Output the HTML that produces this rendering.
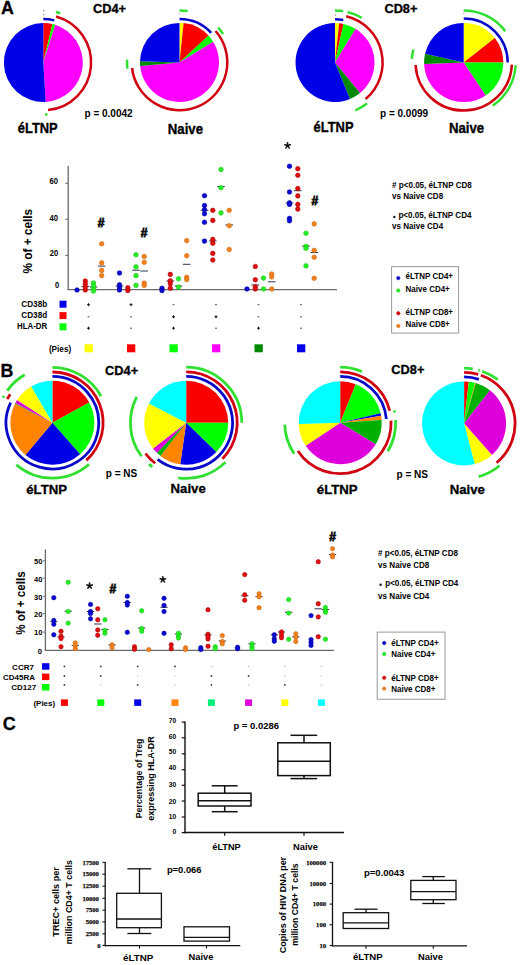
<!DOCTYPE html>
<html><head><meta charset="utf-8"><style>
html,body{margin:0;padding:0;background:#fff;}
body{width:520px;height:965px;overflow:hidden;}
svg{display:block;}
text{fill:#000;}
text.big{stroke:#000;stroke-width:0.3px;}
</style></head><body>
<svg width="520" height="965" viewBox="0 0 520 965">
<rect x="0" y="0" width="520" height="965" fill="#fff"/>
<text x="1.0" y="13.9" font-family="'Liberation Sans', sans-serif" font-size="17.8" font-weight="bold" text-anchor="start"  class="big">A</text>
<text x="93" y="13" font-family="'Liberation Sans', sans-serif" font-size="12.8" font-weight="bold" text-anchor="start"  class="big">CD4+</text>
<text x="384.4" y="13" font-family="'Liberation Sans', sans-serif" font-size="12.8" font-weight="bold" text-anchor="start"  class="big">CD8+</text>
<path d="M43.30,62.50 L43.30,23.00 A39.5,39.5 0 0 1 52.45,24.08 Z" fill="#fc0000"/>
<path d="M43.30,62.50 L52.45,24.08 A39.5,39.5 0 0 1 55.24,24.85 Z" fill="#00ff00"/>
<path d="M43.30,62.50 L55.24,24.85 A39.5,39.5 0 0 1 45.71,101.93 Z" fill="#ff00ff"/>
<path d="M43.30,62.50 L45.71,101.93 A39.5,39.5 0 1 1 43.30,23.00 Z" fill="#0000e6"/>
<path d="M43.30,19.00 A43.5,43.5 0 0 1 54.27,20.40" fill="none" stroke="#0808c8" stroke-width="2.5"/>
<path d="M56.07,16.44 A47.8,47.8 0 0 1 48.05,110.06" fill="none" stroke="#d00010" stroke-width="2.5"/>
<path d="M55.88,12.04 A52,52 0 0 1 60.23,13.33" fill="none" stroke="#30e030" stroke-width="2.5"/>
<path d="M47.38,114.34 A52,52 0 0 1 45.11,114.47" fill="none" stroke="#30e030" stroke-width="2.5"/>
<circle cx="43.70" cy="10.50" r="0.8" fill="#999"/>
<circle cx="43.70" cy="14.80" r="0.8" fill="#999"/>
<path d="M179.50,62.40 L179.50,22.90 A39.5,39.5 0 0 1 183.63,23.12 Z" fill="#ffff00"/>
<path d="M179.50,62.40 L183.63,23.12 A39.5,39.5 0 0 1 208.53,35.61 Z" fill="#fc0000"/>
<path d="M179.50,62.40 L208.53,35.61 A39.5,39.5 0 0 1 213.18,41.76 Z" fill="#00ff00"/>
<path d="M179.50,62.40 L213.18,41.76 A39.5,39.5 0 1 1 140.16,65.98 Z" fill="#ff00ff"/>
<path d="M179.50,62.40 L140.16,65.98 A39.5,39.5 0 0 1 140.02,61.30 Z" fill="#008a00"/>
<path d="M179.50,62.40 L140.02,61.30 A39.5,39.5 0 0 1 179.50,22.90 Z" fill="#0000e6"/>
<path d="M179.50,19.10 A43.3,43.3 0 0 1 211.17,32.87" fill="none" stroke="#0808c8" stroke-width="2.5"/>
<path d="M215.58,31.04 A47.8,47.8 0 1 1 132.03,67.98" fill="none" stroke="#d00010" stroke-width="2.5"/>
<path d="M179.50,10.40 A52,52 0 0 1 187.63,11.04" fill="none" stroke="#30e030" stroke-width="2.5"/>
<path d="M218.14,27.61 A52,52 0 0 1 223.11,34.08" fill="none" stroke="#30e030" stroke-width="2.5"/>
<path d="M127.37,68.62 A52.5,52.5 0 0 1 127.07,59.65" fill="none" stroke="#30e030" stroke-width="2.5"/>
<circle cx="179.30" cy="13.70" r="0.8" fill="#bbb"/>
<path d="M335.00,62.50 L335.00,23.00 A39.5,39.5 0 0 1 339.13,23.22 Z" fill="#ffff00"/>
<path d="M335.00,62.50 L339.13,23.22 A39.5,39.5 0 0 1 343.48,23.92 Z" fill="#fc0000"/>
<path d="M335.00,62.50 L343.48,23.92 A39.5,39.5 0 0 1 355.64,28.82 Z" fill="#00ff00"/>
<path d="M335.00,62.50 L355.64,28.82 A39.5,39.5 0 0 1 360.07,93.02 Z" fill="#ff00ff"/>
<path d="M335.00,62.50 L360.07,93.02 A39.5,39.5 0 0 1 349.99,99.05 Z" fill="#008a00"/>
<path d="M335.00,62.50 L349.99,99.05 A39.5,39.5 0 1 1 335.00,23.00 Z" fill="#0000e6"/>
<path d="M335.00,19.20 A43.3,43.3 0 0 1 343.26,20.00" fill="none" stroke="#0808c8" stroke-width="2.5"/>
<path d="M346.19,16.23 A47.6,47.6 0 0 1 365.60,98.96" fill="none" stroke="#d00010" stroke-width="2.5"/>
<path d="M335.00,10.50 A52,52 0 0 1 343.13,11.14" fill="none" stroke="#30e030" stroke-width="2.5"/>
<path d="M347.58,12.04 A52,52 0 0 1 361.78,17.93" fill="none" stroke="#30e030" stroke-width="2.5"/>
<path d="M367.01,103.48 A52,52 0 0 1 355.32,110.37" fill="none" stroke="#30e030" stroke-width="2.5"/>
<circle cx="335.30" cy="15.00" r="0.8" fill="#c88"/>
<path d="M463.70,62.50 L463.70,22.90 A39.6,39.6 0 0 1 494.82,38.01 Z" fill="#ffff00"/>
<path d="M463.70,62.50 L494.82,38.01 A39.6,39.6 0 0 1 503.30,62.50 Z" fill="#fc0000"/>
<path d="M463.70,62.50 L503.30,62.50 A39.6,39.6 0 0 1 485.67,95.45 Z" fill="#00ff00"/>
<path d="M463.70,62.50 L485.67,95.45 A39.6,39.6 0 0 1 424.12,63.88 Z" fill="#ff00ff"/>
<path d="M463.70,62.50 L424.12,63.88 A39.6,39.6 0 0 1 425.08,53.73 Z" fill="#008a00"/>
<path d="M463.70,62.50 L425.08,53.73 A39.6,39.6 0 0 1 463.70,22.90 Z" fill="#0000e6"/>
<path d="M463.70,18.50 A44,44 0 0 1 507.70,62.50" fill="none" stroke="#0808c8" stroke-width="2.5"/>
<path d="M511.85,64.60 A48.2,48.2 0 0 1 415.57,65.02" fill="none" stroke="#d00010" stroke-width="2.5"/>
<path d="M463.70,10.50 A52,52 0 0 1 505.23,31.21" fill="none" stroke="#30e030" stroke-width="2.5"/>
<path d="M515.63,65.22 A52,52 0 0 1 492.78,105.61" fill="none" stroke="#30e030" stroke-width="2.5"/>
<path d="M411.83,58.87 A52,52 0 0 1 413.36,49.48" fill="none" stroke="#30e030" stroke-width="2.5"/>
<circle cx="463.70" cy="13.50" r="0.8" fill="#bbb"/>
<text x="0" y="0" font-family="'Liberation Sans', sans-serif" font-size="12.9" font-weight="bold" text-anchor="start" transform="translate(17.8 132.7) scale(1 1.16)" class="big">&#233;LTNP</text>
<text x="0" y="0" font-family="'Liberation Sans', sans-serif" font-size="13.2" font-weight="bold" text-anchor="start" transform="translate(167.8 133.6) scale(1 1.13)" class="big">Naive</text>
<text x="84.5" y="117" font-family="'Liberation Sans', sans-serif" font-size="10" font-weight="bold" text-anchor="start" >p = 0.0042</text>
<text x="0" y="0" font-family="'Liberation Sans', sans-serif" font-size="12.9" font-weight="bold" text-anchor="start" transform="translate(313.6 132.3) scale(1 1.16)" class="big">&#233;LTNP</text>
<text x="0" y="0" font-family="'Liberation Sans', sans-serif" font-size="13.2" font-weight="bold" text-anchor="start" transform="translate(448.9 132.6) scale(1 1.13)" class="big">Naive</text>
<text x="380" y="116.8" font-family="'Liberation Sans', sans-serif" font-size="10" font-weight="bold" text-anchor="start" >p = 0.0099</text>
<line x1="68.2" y1="166" x2="68.2" y2="290" stroke="#6a6a6a" stroke-width="1.3"/>
<line x1="67.6" y1="289.6" x2="337" y2="289.6" stroke="#6a6a6a" stroke-width="1.3"/>
<text x="0" y="0" font-family="'Liberation Sans', sans-serif" font-size="7.6" font-weight="bold" text-anchor="end" transform="translate(58.0 184.4) scale(1 1.1)" >60</text>
<text x="0" y="0" font-family="'Liberation Sans', sans-serif" font-size="7.6" font-weight="bold" text-anchor="end" transform="translate(58.0 220.7) scale(1 1.1)" >40</text>
<text x="0" y="0" font-family="'Liberation Sans', sans-serif" font-size="7.6" font-weight="bold" text-anchor="end" transform="translate(58.3 256.0) scale(1 1.1)" >20</text>
<text x="0" y="0" font-family="'Liberation Sans', sans-serif" font-size="7.6" font-weight="bold" text-anchor="end" transform="translate(59.3 287.8) scale(1 1.1)" >0</text>
<line x1="65.3" y1="183.3" x2="68.2" y2="183.3" stroke="#6a6a6a" stroke-width="1"/>
<line x1="65.3" y1="219.3" x2="68.2" y2="219.3" stroke="#6a6a6a" stroke-width="1"/>
<line x1="65.3" y1="255.4" x2="68.2" y2="255.4" stroke="#6a6a6a" stroke-width="1"/>
<text x="0" y="0" font-family="'Liberation Sans', sans-serif" font-size="11.8" font-weight="bold" text-anchor="middle" transform="translate(31.5 241.2) rotate(-90) scale(1 1.1)">% of + cells</text>
<line x1="81.5" y1="286.5" x2="89.1" y2="286.5" stroke="#303048" stroke-width="1.0"/>
<line x1="89.7" y1="287" x2="97.3" y2="287" stroke="#303048" stroke-width="1.0"/>
<line x1="97.9" y1="266.1" x2="105.5" y2="266.1" stroke="#303048" stroke-width="1.0"/>
<circle cx="77.00" cy="290.00" r="2.30" fill="#0a0ad0" stroke="#0000a8" stroke-width="0.6"/>
<circle cx="85.30" cy="281.00" r="2.30" fill="#e01010" stroke="#b00000" stroke-width="0.6"/>
<circle cx="85.30" cy="284.00" r="2.30" fill="#e01010" stroke="#b00000" stroke-width="0.6"/>
<circle cx="85.30" cy="287.00" r="2.30" fill="#e01010" stroke="#b00000" stroke-width="0.6"/>
<circle cx="85.30" cy="290.00" r="2.30" fill="#e01010" stroke="#b00000" stroke-width="0.6"/>
<circle cx="93.50" cy="283.00" r="2.30" fill="#28ee28" stroke="#18c818" stroke-width="0.6"/>
<circle cx="93.50" cy="286.00" r="2.30" fill="#28ee28" stroke="#18c818" stroke-width="0.6"/>
<circle cx="93.50" cy="289.00" r="2.30" fill="#28ee28" stroke="#18c818" stroke-width="0.6"/>
<circle cx="93.50" cy="291.00" r="2.30" fill="#28ee28" stroke="#18c818" stroke-width="0.6"/>
<circle cx="101.70" cy="243.80" r="2.30" fill="#f08020" stroke="#d06c10" stroke-width="0.6"/>
<circle cx="101.70" cy="262.90" r="2.30" fill="#f08020" stroke="#d06c10" stroke-width="0.6"/>
<circle cx="101.70" cy="270.40" r="2.30" fill="#f08020" stroke="#d06c10" stroke-width="0.6"/>
<circle cx="101.70" cy="275.60" r="2.30" fill="#f08020" stroke="#d06c10" stroke-width="0.6"/>
<line x1="115.7" y1="286" x2="123.3" y2="286" stroke="#303048" stroke-width="1.0"/>
<line x1="132.2" y1="270.2" x2="139.8" y2="270.2" stroke="#303048" stroke-width="1.0"/>
<line x1="140.39999999999998" y1="271" x2="148.0" y2="271" stroke="#303048" stroke-width="1.0"/>
<circle cx="119.50" cy="273.00" r="2.30" fill="#0a0ad0" stroke="#0000a8" stroke-width="0.6"/>
<circle cx="119.50" cy="284.80" r="2.30" fill="#0a0ad0" stroke="#0000a8" stroke-width="0.6"/>
<circle cx="119.50" cy="287.70" r="2.30" fill="#0a0ad0" stroke="#0000a8" stroke-width="0.6"/>
<circle cx="119.50" cy="290.00" r="2.30" fill="#0a0ad0" stroke="#0000a8" stroke-width="0.6"/>
<circle cx="127.80" cy="287.70" r="2.30" fill="#e01010" stroke="#b00000" stroke-width="0.6"/>
<circle cx="127.80" cy="290.60" r="2.30" fill="#e01010" stroke="#b00000" stroke-width="0.6"/>
<circle cx="136.00" cy="254.80" r="2.30" fill="#28ee28" stroke="#18c818" stroke-width="0.6"/>
<circle cx="136.00" cy="266.90" r="2.30" fill="#28ee28" stroke="#18c818" stroke-width="0.6"/>
<circle cx="136.00" cy="275.60" r="2.30" fill="#28ee28" stroke="#18c818" stroke-width="0.6"/>
<circle cx="136.00" cy="285.40" r="2.30" fill="#28ee28" stroke="#18c818" stroke-width="0.6"/>
<circle cx="144.20" cy="256.50" r="2.30" fill="#f08020" stroke="#d06c10" stroke-width="0.6"/>
<circle cx="144.20" cy="262.30" r="2.30" fill="#f08020" stroke="#d06c10" stroke-width="0.6"/>
<circle cx="144.20" cy="283.10" r="2.30" fill="#f08020" stroke="#d06c10" stroke-width="0.6"/>
<circle cx="144.20" cy="285.40" r="2.30" fill="#f08020" stroke="#d06c10" stroke-width="0.6"/>
<line x1="166.5" y1="281" x2="174.10000000000002" y2="281" stroke="#303048" stroke-width="1.0"/>
<line x1="174.7" y1="286" x2="182.3" y2="286" stroke="#303048" stroke-width="1.0"/>
<line x1="182.89999999999998" y1="264.3" x2="190.5" y2="264.3" stroke="#303048" stroke-width="1.0"/>
<circle cx="162.00" cy="288.30" r="2.30" fill="#0a0ad0" stroke="#0000a8" stroke-width="0.6"/>
<circle cx="162.00" cy="290.60" r="2.30" fill="#0a0ad0" stroke="#0000a8" stroke-width="0.6"/>
<circle cx="170.30" cy="274.40" r="2.30" fill="#e01010" stroke="#b00000" stroke-width="0.6"/>
<circle cx="170.30" cy="280.80" r="2.30" fill="#e01010" stroke="#b00000" stroke-width="0.6"/>
<circle cx="170.30" cy="283.70" r="2.30" fill="#e01010" stroke="#b00000" stroke-width="0.6"/>
<circle cx="170.30" cy="288.30" r="2.30" fill="#e01010" stroke="#b00000" stroke-width="0.6"/>
<circle cx="178.50" cy="278.80" r="2.30" fill="#28ee28" stroke="#18c818" stroke-width="0.6"/>
<circle cx="178.50" cy="287.10" r="2.30" fill="#28ee28" stroke="#18c818" stroke-width="0.6"/>
<circle cx="186.70" cy="240.60" r="2.30" fill="#f08020" stroke="#d06c10" stroke-width="0.6"/>
<circle cx="186.70" cy="255.70" r="2.30" fill="#f08020" stroke="#d06c10" stroke-width="0.6"/>
<circle cx="186.70" cy="277.30" r="2.30" fill="#f08020" stroke="#d06c10" stroke-width="0.6"/>
<circle cx="186.70" cy="279.60" r="2.30" fill="#f08020" stroke="#d06c10" stroke-width="0.6"/>
<line x1="200.7" y1="210.3" x2="208.3" y2="210.3" stroke="#303048" stroke-width="1.0"/>
<line x1="209.0" y1="241" x2="216.60000000000002" y2="241" stroke="#303048" stroke-width="1.0"/>
<line x1="217.2" y1="186.6" x2="224.8" y2="186.6" stroke="#303048" stroke-width="1.0"/>
<line x1="225.39999999999998" y1="225" x2="233.0" y2="225" stroke="#303048" stroke-width="1.0"/>
<circle cx="204.50" cy="195.70" r="2.30" fill="#0a0ad0" stroke="#0000a8" stroke-width="0.6"/>
<circle cx="204.50" cy="205.50" r="2.30" fill="#0a0ad0" stroke="#0000a8" stroke-width="0.6"/>
<circle cx="204.50" cy="209.70" r="2.30" fill="#0a0ad0" stroke="#0000a8" stroke-width="0.6"/>
<circle cx="204.50" cy="213.80" r="2.30" fill="#0a0ad0" stroke="#0000a8" stroke-width="0.6"/>
<circle cx="204.50" cy="222.20" r="2.30" fill="#0a0ad0" stroke="#0000a8" stroke-width="0.6"/>
<circle cx="204.50" cy="241.10" r="2.30" fill="#0a0ad0" stroke="#0000a8" stroke-width="0.6"/>
<circle cx="212.80" cy="210.30" r="2.30" fill="#e01010" stroke="#b00000" stroke-width="0.6"/>
<circle cx="212.80" cy="220.40" r="2.30" fill="#e01010" stroke="#b00000" stroke-width="0.6"/>
<circle cx="212.80" cy="239.40" r="2.30" fill="#e01010" stroke="#b00000" stroke-width="0.6"/>
<circle cx="212.80" cy="243.20" r="2.30" fill="#e01010" stroke="#b00000" stroke-width="0.6"/>
<circle cx="212.80" cy="253.40" r="2.30" fill="#e01010" stroke="#b00000" stroke-width="0.6"/>
<circle cx="212.80" cy="260.00" r="2.30" fill="#e01010" stroke="#b00000" stroke-width="0.6"/>
<circle cx="221.00" cy="169.50" r="2.30" fill="#28ee28" stroke="#18c818" stroke-width="0.6"/>
<circle cx="221.00" cy="187.70" r="2.30" fill="#28ee28" stroke="#18c818" stroke-width="0.6"/>
<circle cx="221.00" cy="212.90" r="2.30" fill="#28ee28" stroke="#18c818" stroke-width="0.6"/>
<circle cx="229.20" cy="210.30" r="2.30" fill="#f08020" stroke="#d06c10" stroke-width="0.6"/>
<circle cx="229.20" cy="225.70" r="2.30" fill="#f08020" stroke="#d06c10" stroke-width="0.6"/>
<circle cx="229.20" cy="249.50" r="2.30" fill="#f08020" stroke="#d06c10" stroke-width="0.6"/>
<line x1="251.5" y1="285" x2="259.1" y2="285" stroke="#303048" stroke-width="1.0"/>
<line x1="267.9" y1="281.8" x2="275.5" y2="281.8" stroke="#303048" stroke-width="1.0"/>
<circle cx="247.00" cy="289.00" r="2.30" fill="#0a0ad0" stroke="#0000a8" stroke-width="0.6"/>
<circle cx="255.30" cy="266.50" r="2.30" fill="#e01010" stroke="#b00000" stroke-width="0.6"/>
<circle cx="255.30" cy="279.80" r="2.30" fill="#e01010" stroke="#b00000" stroke-width="0.6"/>
<circle cx="255.30" cy="286.70" r="2.30" fill="#e01010" stroke="#b00000" stroke-width="0.6"/>
<circle cx="255.30" cy="289.00" r="2.30" fill="#e01010" stroke="#b00000" stroke-width="0.6"/>
<circle cx="263.50" cy="278.10" r="2.30" fill="#28ee28" stroke="#18c818" stroke-width="0.6"/>
<circle cx="263.50" cy="289.00" r="2.30" fill="#28ee28" stroke="#18c818" stroke-width="0.6"/>
<circle cx="271.70" cy="274.00" r="2.30" fill="#f08020" stroke="#d06c10" stroke-width="0.6"/>
<circle cx="271.70" cy="276.90" r="2.30" fill="#f08020" stroke="#d06c10" stroke-width="0.6"/>
<circle cx="271.70" cy="289.00" r="2.30" fill="#f08020" stroke="#d06c10" stroke-width="0.6"/>
<line x1="285.7" y1="203" x2="293.3" y2="203" stroke="#303048" stroke-width="1.0"/>
<line x1="294.0" y1="190.7" x2="301.6" y2="190.7" stroke="#303048" stroke-width="1.0"/>
<line x1="302.2" y1="246" x2="309.8" y2="246" stroke="#303048" stroke-width="1.0"/>
<line x1="310.4" y1="252.6" x2="318.0" y2="252.6" stroke="#303048" stroke-width="1.0"/>
<circle cx="289.50" cy="166.30" r="2.30" fill="#0a0ad0" stroke="#0000a8" stroke-width="0.6"/>
<circle cx="289.50" cy="192.00" r="2.30" fill="#0a0ad0" stroke="#0000a8" stroke-width="0.6"/>
<circle cx="289.50" cy="202.90" r="2.30" fill="#0a0ad0" stroke="#0000a8" stroke-width="0.6"/>
<circle cx="289.50" cy="204.40" r="2.30" fill="#0a0ad0" stroke="#0000a8" stroke-width="0.6"/>
<circle cx="289.50" cy="218.40" r="2.30" fill="#0a0ad0" stroke="#0000a8" stroke-width="0.6"/>
<circle cx="289.50" cy="220.80" r="2.30" fill="#0a0ad0" stroke="#0000a8" stroke-width="0.6"/>
<circle cx="297.80" cy="168.70" r="2.30" fill="#e01010" stroke="#b00000" stroke-width="0.6"/>
<circle cx="297.80" cy="175.20" r="2.30" fill="#e01010" stroke="#b00000" stroke-width="0.6"/>
<circle cx="297.80" cy="188.60" r="2.30" fill="#e01010" stroke="#b00000" stroke-width="0.6"/>
<circle cx="297.80" cy="195.90" r="2.30" fill="#e01010" stroke="#b00000" stroke-width="0.6"/>
<circle cx="297.80" cy="204.40" r="2.30" fill="#e01010" stroke="#b00000" stroke-width="0.6"/>
<circle cx="297.80" cy="209.10" r="2.30" fill="#e01010" stroke="#b00000" stroke-width="0.6"/>
<circle cx="306.00" cy="233.20" r="2.30" fill="#28ee28" stroke="#18c818" stroke-width="0.6"/>
<circle cx="306.00" cy="246.40" r="2.30" fill="#28ee28" stroke="#18c818" stroke-width="0.6"/>
<circle cx="306.00" cy="248.30" r="2.30" fill="#28ee28" stroke="#18c818" stroke-width="0.6"/>
<circle cx="306.00" cy="265.90" r="2.30" fill="#28ee28" stroke="#18c818" stroke-width="0.6"/>
<circle cx="314.20" cy="223.90" r="2.30" fill="#f08020" stroke="#d06c10" stroke-width="0.6"/>
<circle cx="314.20" cy="250.30" r="2.30" fill="#f08020" stroke="#d06c10" stroke-width="0.6"/>
<circle cx="314.20" cy="257.30" r="2.30" fill="#f08020" stroke="#d06c10" stroke-width="0.6"/>
<circle cx="314.20" cy="278.30" r="2.30" fill="#f08020" stroke="#d06c10" stroke-width="0.6"/>
<text x="101" y="227.3" font-family="'Liberation Sans', sans-serif" font-size="12" font-weight="bold" text-anchor="middle" stroke="#111" stroke-width="0.8">#</text>
<text x="144" y="236.5" font-family="'Liberation Sans', sans-serif" font-size="12" font-weight="bold" text-anchor="middle" stroke="#111" stroke-width="0.8">#</text>
<text x="314.8" y="205.2" font-family="'Liberation Sans', sans-serif" font-size="12" font-weight="bold" text-anchor="middle" stroke="#111" stroke-width="0.8">#</text>
<path d="M287.55,145.60 L287.55,142.80 M287.55,145.60 L290.21,144.73 M287.55,145.60 L289.20,147.87 M287.55,145.60 L285.90,147.87 M287.55,145.60 L284.89,144.73 " stroke="#111" stroke-width="1.6" stroke-linecap="round" fill="none"/>
<circle cx="287.55" cy="145.6" r="1.2" fill="#111"/>
<text x="0" y="0" font-family="'Liberation Sans', sans-serif" font-size="8.1" font-weight="bold" text-anchor="start" transform="translate(392 187.8) scale(1 1.12)" ># p&lt;0.05, &#233;LTNP CD8</text>
<text x="0" y="0" font-family="'Liberation Sans', sans-serif" font-size="8.1" font-weight="bold" text-anchor="start" transform="translate(392 199.3) scale(1 1.12)" >vs Naive CD8</text>
<circle cx="394.30" cy="217.00" r="1.25" fill="#222"/>
<text x="0" y="0" font-family="'Liberation Sans', sans-serif" font-size="8.1" font-weight="bold" text-anchor="start" transform="translate(398.4 218.3) scale(1 1.12)" >p&lt;0.05, &#233;LTNP CD4</text>
<text x="0" y="0" font-family="'Liberation Sans', sans-serif" font-size="8.1" font-weight="bold" text-anchor="start" transform="translate(392 229.0) scale(1 1.12)" >vs Naive CD4</text>
<rect x="391.6" y="266.6" width="67" height="66.5" fill="none" stroke="#9a9a9a" stroke-width="1"/>
<circle cx="398.30" cy="278.10" r="1.70" fill="#0a0ad0" stroke="#0000a8" stroke-width="0.6"/>
<text x="0" y="0" font-family="'Liberation Sans', sans-serif" font-size="8" font-weight="bold" text-anchor="start" transform="translate(405.6 279.4) scale(1 1.15)" >&#233;LTNP CD4+</text>
<circle cx="398.30" cy="290.50" r="1.70" fill="#28ee28" stroke="#18c818" stroke-width="0.6"/>
<text x="0" y="0" font-family="'Liberation Sans', sans-serif" font-size="8" font-weight="bold" text-anchor="start" transform="translate(405.6 292.1) scale(1 1.15)" >Naive CD4+</text>
<circle cx="398.30" cy="313.30" r="1.70" fill="#e01010" stroke="#b00000" stroke-width="0.6"/>
<text x="0" y="0" font-family="'Liberation Sans', sans-serif" font-size="8" font-weight="bold" text-anchor="start" transform="translate(405.6 314.9) scale(1 1.15)" >&#233;LTNP CD8+</text>
<circle cx="398.30" cy="326.00" r="1.70" fill="#f08020" stroke="#d06c10" stroke-width="0.6"/>
<text x="0" y="0" font-family="'Liberation Sans', sans-serif" font-size="8" font-weight="bold" text-anchor="start" transform="translate(405.6 327.3) scale(1 1.15)" >Naive CD8+</text>
<text x="0" y="0" font-family="'Liberation Sans', sans-serif" font-size="8.2" font-weight="bold" text-anchor="end" transform="translate(47.2 306.7) scale(1 1.06)" >CD38b</text>
<rect x="59.5" y="300.7" width="7" height="7" fill="#0000e6" stroke="none" stroke-width="1.0"/>
<text x="0" y="0" font-family="'Liberation Sans', sans-serif" font-size="8.2" font-weight="bold" text-anchor="end" transform="translate(47.2 318.1) scale(1 1.06)" >CD38d</text>
<rect x="59.5" y="312.1" width="7" height="7" fill="#fc0000" stroke="none" stroke-width="1.0"/>
<text x="0" y="0" font-family="'Liberation Sans', sans-serif" font-size="7.9" font-weight="bold" text-anchor="end" transform="translate(47.2 329.3) scale(1 1.06)" >HLA-DR</text>
<rect x="59.5" y="323.3" width="7" height="7" fill="#00ff00" stroke="none" stroke-width="1.0"/>
<line x1="87.0" y1="304.7" x2="90.0" y2="304.7" stroke="#111" stroke-width="1.0"/>
<line x1="88.5" y1="303.2" x2="88.5" y2="306.2" stroke="#111" stroke-width="1.0"/>
<line x1="87.6" y1="316.8" x2="89.4" y2="316.8" stroke="#444" stroke-width="1.0"/>
<line x1="87.0" y1="328.2" x2="90.0" y2="328.2" stroke="#111" stroke-width="1.0"/>
<line x1="88.5" y1="326.7" x2="88.5" y2="329.7" stroke="#111" stroke-width="1.0"/>
<line x1="129.5" y1="304.7" x2="132.5" y2="304.7" stroke="#111" stroke-width="1.0"/>
<line x1="131" y1="303.2" x2="131" y2="306.2" stroke="#111" stroke-width="1.0"/>
<line x1="130.1" y1="316.8" x2="131.9" y2="316.8" stroke="#444" stroke-width="1.0"/>
<line x1="130.1" y1="328.2" x2="131.9" y2="328.2" stroke="#444" stroke-width="1.0"/>
<line x1="172.6" y1="304.7" x2="174.4" y2="304.7" stroke="#444" stroke-width="1.0"/>
<line x1="172.0" y1="316.8" x2="175.0" y2="316.8" stroke="#111" stroke-width="1.0"/>
<line x1="173.5" y1="315.3" x2="173.5" y2="318.3" stroke="#111" stroke-width="1.0"/>
<line x1="172.0" y1="328.2" x2="175.0" y2="328.2" stroke="#111" stroke-width="1.0"/>
<line x1="173.5" y1="326.7" x2="173.5" y2="329.7" stroke="#111" stroke-width="1.0"/>
<line x1="215.1" y1="304.7" x2="216.9" y2="304.7" stroke="#444" stroke-width="1.0"/>
<line x1="214.5" y1="316.8" x2="217.5" y2="316.8" stroke="#111" stroke-width="1.0"/>
<line x1="216" y1="315.3" x2="216" y2="318.3" stroke="#111" stroke-width="1.0"/>
<line x1="215.1" y1="328.2" x2="216.9" y2="328.2" stroke="#444" stroke-width="1.0"/>
<line x1="257.6" y1="304.7" x2="259.4" y2="304.7" stroke="#444" stroke-width="1.0"/>
<line x1="257.6" y1="316.8" x2="259.4" y2="316.8" stroke="#444" stroke-width="1.0"/>
<line x1="257.0" y1="328.2" x2="260.0" y2="328.2" stroke="#111" stroke-width="1.0"/>
<line x1="258.5" y1="326.7" x2="258.5" y2="329.7" stroke="#111" stroke-width="1.0"/>
<line x1="300.1" y1="304.7" x2="301.9" y2="304.7" stroke="#444" stroke-width="1.0"/>
<line x1="300.1" y1="316.8" x2="301.9" y2="316.8" stroke="#444" stroke-width="1.0"/>
<line x1="300.1" y1="328.2" x2="301.9" y2="328.2" stroke="#444" stroke-width="1.0"/>
<text x="71.2" y="351.5" font-family="'Liberation Sans', sans-serif" font-size="8.2" font-weight="bold" text-anchor="end" >(Pies)</text>
<rect x="84.5" y="344.3" width="8.3" height="8" fill="#ffff00" stroke="none" stroke-width="1.0"/>
<rect x="127" y="344.3" width="8.3" height="8" fill="#fc0000" stroke="none" stroke-width="1.0"/>
<rect x="169.5" y="344.3" width="8.3" height="8" fill="#00ff00" stroke="none" stroke-width="1.0"/>
<rect x="212" y="344.3" width="8.3" height="8" fill="#ff00ff" stroke="none" stroke-width="1.0"/>
<rect x="254.5" y="344.3" width="8.3" height="8" fill="#008a00" stroke="none" stroke-width="1.0"/>
<rect x="297" y="344.3" width="8.3" height="8" fill="#0000e6" stroke="none" stroke-width="1.0"/>
<text x="0.6" y="377.3" font-family="'Liberation Sans', sans-serif" font-size="17.8" font-weight="bold" text-anchor="start"  class="big">B</text>
<text x="105.1" y="374.6" font-family="'Liberation Sans', sans-serif" font-size="12.8" font-weight="bold" text-anchor="start"  class="big">CD4+</text>
<text x="391.3" y="374.4" font-family="'Liberation Sans', sans-serif" font-size="12.8" font-weight="bold" text-anchor="start"  class="big">CD8+</text>
<path d="M52.40,422.70 L52.40,380.70 A42,42 0 0 1 89.24,402.53 Z" fill="#fc0000"/>
<path d="M52.40,422.70 L89.24,402.53 A42,42 0 0 1 80.12,454.25 Z" fill="#00ff00"/>
<path d="M52.40,422.70 L80.12,454.25 A42,42 0 0 1 25.46,454.92 Z" fill="#0000e6"/>
<path d="M52.40,422.70 L25.46,454.92 A42,42 0 0 1 14.94,403.70 Z" fill="#ff8400"/>
<path d="M52.40,422.70 L14.94,403.70 A42,42 0 0 1 15.25,403.11 Z" fill="#00b000"/>
<path d="M52.40,422.70 L15.25,403.11 A42,42 0 0 1 17.14,399.89 Z" fill="#dd00dd"/>
<path d="M52.40,422.70 L17.14,399.89 A42,42 0 0 1 31.21,386.44 Z" fill="#ffff00"/>
<path d="M52.40,422.70 L31.21,386.44 A42,42 0 0 1 52.40,380.70 Z" fill="#00ffff"/>
<path d="M52.40,376.40 A46.3,46.3 0 1 1 10.68,402.62" fill="none" stroke="#0808c8" stroke-width="2.8"/>
<path d="M52.40,372.00 A50.7,50.7 0 0 1 86.32,460.38" fill="none" stroke="#d00010" stroke-width="2.8"/>
<path d="M7.25,399.20 A50.9,50.9 0 0 1 10.20,394.24" fill="none" stroke="#d00010" stroke-width="2.8"/>
<path d="M52.40,367.30 A55.4,55.4 0 0 1 101.09,396.27" fill="none" stroke="#30e030" stroke-width="2.8"/>
<path d="M89.04,464.26 A55.4,55.4 0 0 1 16.27,464.70" fill="none" stroke="#30e030" stroke-width="2.8"/>
<path d="M7.24,390.61 A55.4,55.4 0 0 1 24.70,374.72" fill="none" stroke="#30e030" stroke-width="2.8"/>
<path d="M3.04,397.55 A55.4,55.4 0 0 1 3.95,395.84" fill="none" stroke="#30e030" stroke-width="2.8"/>
<path d="M186.20,422.80 L186.20,380.80 A42,42 0 0 1 228.20,422.80 Z" fill="#fc0000"/>
<path d="M186.20,422.80 L228.20,422.80 A42,42 0 0 1 216.31,452.08 Z" fill="#00ff00"/>
<path d="M186.20,422.80 L216.31,452.08 A42,42 0 0 1 180.21,464.37 Z" fill="#0000e6"/>
<path d="M186.20,422.80 L180.21,464.37 A42,42 0 0 1 160.40,455.94 Z" fill="#ff8400"/>
<path d="M186.20,422.80 L160.40,455.94 A42,42 0 0 1 156.87,452.86 Z" fill="#00b000"/>
<path d="M186.20,422.80 L156.87,452.86 A42,42 0 0 1 153.01,448.54 Z" fill="#dd00dd"/>
<path d="M186.20,422.80 L153.01,448.54 A42,42 0 0 1 148.95,403.41 Z" fill="#ffff00"/>
<path d="M186.20,422.80 L148.95,403.41 A42,42 0 0 1 186.20,380.80 Z" fill="#00ffff"/>
<path d="M186.20,376.40 A46.4,46.4 0 1 1 157.63,459.36" fill="none" stroke="#0808c8" stroke-width="2.8"/>
<path d="M186.20,371.80 A51.0,51.0 0 0 1 222.45,458.67" fill="none" stroke="#d00010" stroke-width="2.8"/>
<path d="M155.15,463.26 A51.0,51.0 0 0 1 145.47,453.49" fill="none" stroke="#d00010" stroke-width="2.8"/>
<path d="M186.20,367.20 A55.6,55.6 0 0 1 241.80,422.80" fill="none" stroke="#30e030" stroke-width="2.8"/>
<path d="M225.52,462.12 A55.6,55.6 0 0 1 178.27,477.83" fill="none" stroke="#30e030" stroke-width="2.8"/>
<path d="M152.35,466.91 A55.6,55.6 0 0 1 149.00,464.12" fill="none" stroke="#30e030" stroke-width="2.8"/>
<path d="M141.52,456.23 A55.8,55.8 0 0 1 136.75,396.95" fill="none" stroke="#30e030" stroke-width="2.8"/>
<path d="M340.20,422.70 L340.20,381.20 A41.5,41.5 0 0 1 355.81,384.25 Z" fill="#fc0000"/>
<path d="M340.20,422.70 L355.81,384.25 A41.5,41.5 0 0 1 380.59,413.15 Z" fill="#00ff00"/>
<path d="M340.20,422.70 L380.59,413.15 A41.5,41.5 0 0 1 381.09,415.64 Z" fill="#0000e6"/>
<path d="M340.20,422.70 L381.09,415.64 A41.5,41.5 0 0 1 381.61,419.95 Z" fill="#ff8400"/>
<path d="M340.20,422.70 L381.61,419.95 A41.5,41.5 0 0 1 375.66,444.26 Z" fill="#00b000"/>
<path d="M340.20,422.70 L375.66,444.26 A41.5,41.5 0 0 1 305.71,445.79 Z" fill="#dd00dd"/>
<path d="M340.20,422.70 L305.71,445.79 A41.5,41.5 0 0 1 298.72,423.93 Z" fill="#ffff00"/>
<path d="M340.20,422.70 L298.72,423.93 A41.5,41.5 0 0 1 340.20,381.20 Z" fill="#00ffff"/>
<path d="M340.20,376.40 A46.3,46.3 0 0 1 386.35,418.99" fill="none" stroke="#0808c8" stroke-width="2.8"/>
<path d="M340.20,371.80 A50.9,50.9 0 0 1 389.67,410.73" fill="none" stroke="#d00010" stroke-width="2.8"/>
<path d="M391.06,420.57 A50.9,50.9 0 0 1 297.90,451.02" fill="none" stroke="#d00010" stroke-width="2.8"/>
<path d="M340.20,367.20 A55.5,55.5 0 0 1 361.89,371.61" fill="none" stroke="#30e030" stroke-width="2.8"/>
<path d="M394.34,410.50 A55.5,55.5 0 0 1 394.74,412.40" fill="none" stroke="#30e030" stroke-width="2.8"/>
<path d="M395.63,419.99 A55.5,55.5 0 0 1 387.77,451.28" fill="none" stroke="#30e030" stroke-width="2.8"/>
<path d="M294.19,453.74 A55.5,55.5 0 0 1 284.73,424.64" fill="none" stroke="#30e030" stroke-width="2.8"/>
<path d="M464.10,423.40 L464.10,381.40 A42,42 0 0 1 468.78,381.66 Z" fill="#fc0000"/>
<path d="M464.10,423.40 L468.78,381.66 A42,42 0 0 1 475.11,382.87 Z" fill="#00ff00"/>
<path d="M464.10,423.40 L475.11,382.87 A42,42 0 0 1 475.82,383.07 Z" fill="#ff8400"/>
<path d="M464.10,423.40 L475.82,383.07 A42,42 0 0 1 489.96,390.30 Z" fill="#00b000"/>
<path d="M464.10,423.40 L489.96,390.30 A42,42 0 0 1 491.82,454.95 Z" fill="#dd00dd"/>
<path d="M464.10,423.40 L491.82,454.95 A42,42 0 0 1 474.69,464.04 Z" fill="#ffff00"/>
<path d="M464.10,423.40 L474.69,464.04 A42,42 0 1 1 464.10,381.40 Z" fill="#00ffff"/>
<path d="M464.10,376.90 A46.5,46.5 0 0 1 478.93,379.33" fill="none" stroke="#0808c8" stroke-width="2.8"/>
<path d="M464.10,372.40 A51,51 0 0 1 478.24,374.40" fill="none" stroke="#d00010" stroke-width="2.8"/>
<path d="M480.87,375.24 A51,51 0 0 1 496.54,462.75" fill="none" stroke="#d00010" stroke-width="2.8"/>
<path d="M464.10,368.20 A55.2,55.2 0 0 1 472.74,368.88" fill="none" stroke="#30e030" stroke-width="2.8"/>
<path d="M478.39,370.08 A55.2,55.2 0 0 1 479.78,370.47" fill="none" stroke="#30e030" stroke-width="2.8"/>
<path d="M482.07,371.21 A55.2,55.2 0 0 1 497.78,379.67" fill="none" stroke="#30e030" stroke-width="2.8"/>
<path d="M499.51,465.75 A55.2,55.2 0 0 1 478.67,476.64" fill="none" stroke="#30e030" stroke-width="2.8"/>
<text x="26.25" y="493.75" font-family="'Liberation Sans', sans-serif" font-size="13.2" font-weight="bold" text-anchor="start"  class="big">&#233;LTNP</text>
<text x="170.6" y="493.4" font-family="'Liberation Sans', sans-serif" font-size="13.2" font-weight="bold" text-anchor="start"  class="big">Naive</text>
<text x="316.8" y="493.75" font-family="'Liberation Sans', sans-serif" font-size="13.2" font-weight="bold" text-anchor="start"  class="big">&#233;LTNP</text>
<text x="449.7" y="493.7" font-family="'Liberation Sans', sans-serif" font-size="13.2" font-weight="bold" text-anchor="start"  class="big">Naive</text>
<text x="105.8" y="477.1" font-family="'Liberation Sans', sans-serif" font-size="10" font-weight="bold" text-anchor="start" >p = NS</text>
<text x="396.5" y="477.8" font-family="'Liberation Sans', sans-serif" font-size="10" font-weight="bold" text-anchor="start" >p = NS</text>
<line x1="45.4" y1="549.5" x2="45.4" y2="650.8" stroke="#6a6a6a" stroke-width="1.3"/>
<line x1="44.8" y1="650.3" x2="334" y2="650.3" stroke="#6a6a6a" stroke-width="1.3"/>
<text x="0" y="0" font-family="'Liberation Sans', sans-serif" font-size="7.6" font-weight="bold" text-anchor="end" transform="translate(42.4 564.3) scale(1 1.05)" >50</text>
<line x1="43.1" y1="560.8" x2="45.4" y2="560.8" stroke="#6a6a6a" stroke-width="1"/>
<text x="0" y="0" font-family="'Liberation Sans', sans-serif" font-size="7.6" font-weight="bold" text-anchor="end" transform="translate(42.4 581.6) scale(1 1.05)" >40</text>
<line x1="43.1" y1="578.2" x2="45.4" y2="578.2" stroke="#6a6a6a" stroke-width="1"/>
<text x="0" y="0" font-family="'Liberation Sans', sans-serif" font-size="7.6" font-weight="bold" text-anchor="end" transform="translate(42.4 600.0) scale(1 1.05)" >30</text>
<line x1="43.1" y1="596.3" x2="45.4" y2="596.3" stroke="#6a6a6a" stroke-width="1"/>
<text x="0" y="0" font-family="'Liberation Sans', sans-serif" font-size="7.6" font-weight="bold" text-anchor="end" transform="translate(42.4 617.4) scale(1 1.05)" >20</text>
<line x1="43.1" y1="613.6" x2="45.4" y2="613.6" stroke="#6a6a6a" stroke-width="1"/>
<text x="0" y="0" font-family="'Liberation Sans', sans-serif" font-size="7.6" font-weight="bold" text-anchor="end" transform="translate(42.4 635.2) scale(1 1.05)" >10</text>
<line x1="43.1" y1="632.1" x2="45.4" y2="632.1" stroke="#6a6a6a" stroke-width="1"/>
<text x="0" y="0" font-family="'Liberation Sans', sans-serif" font-size="7.6" font-weight="bold" text-anchor="end" transform="translate(42.0 653.7) scale(1 1.05)" >0</text>
<text x="0" y="0" font-family="'Liberation Sans', sans-serif" font-size="11.6" font-weight="bold" text-anchor="middle" transform="translate(25.2 603.1) rotate(-90) scale(1 1.07)">% of + cells</text>
<line x1="50.199999999999996" y1="621.7" x2="57.4" y2="621.7" stroke="#303048" stroke-width="1.0"/>
<line x1="64.60000000000001" y1="611.2" x2="71.8" y2="611.2" stroke="#303048" stroke-width="1.0"/>
<line x1="71.7" y1="645.4" x2="78.89999999999999" y2="645.4" stroke="#303048" stroke-width="1.0"/>
<line x1="57.4" y1="637" x2="64.6" y2="637" stroke="#303048" stroke-width="1.0"/>
<circle cx="53.80" cy="597.70" r="2.20" fill="#0a0ad0" stroke="#0000a8" stroke-width="0.6"/>
<circle cx="53.80" cy="620.40" r="2.20" fill="#0a0ad0" stroke="#0000a8" stroke-width="0.6"/>
<circle cx="53.80" cy="624.20" r="2.20" fill="#0a0ad0" stroke="#0000a8" stroke-width="0.6"/>
<circle cx="53.80" cy="634.80" r="2.20" fill="#0a0ad0" stroke="#0000a8" stroke-width="0.6"/>
<circle cx="61.00" cy="631.30" r="2.20" fill="#e01010" stroke="#b00000" stroke-width="0.6"/>
<circle cx="61.00" cy="636.20" r="2.20" fill="#e01010" stroke="#b00000" stroke-width="0.6"/>
<circle cx="61.00" cy="638.50" r="2.20" fill="#e01010" stroke="#b00000" stroke-width="0.6"/>
<circle cx="61.00" cy="646.70" r="2.20" fill="#e01010" stroke="#b00000" stroke-width="0.6"/>
<circle cx="68.20" cy="582.30" r="2.20" fill="#28ee28" stroke="#18c818" stroke-width="0.6"/>
<circle cx="68.20" cy="611.50" r="2.20" fill="#28ee28" stroke="#18c818" stroke-width="0.6"/>
<circle cx="68.20" cy="623.10" r="2.20" fill="#28ee28" stroke="#18c818" stroke-width="0.6"/>
<circle cx="75.30" cy="642.90" r="2.20" fill="#f08020" stroke="#d06c10" stroke-width="0.6"/>
<circle cx="75.30" cy="645.80" r="2.20" fill="#f08020" stroke="#d06c10" stroke-width="0.6"/>
<circle cx="75.30" cy="648.70" r="2.20" fill="#f08020" stroke="#d06c10" stroke-width="0.6"/>
<line x1="86.95" y1="611.5" x2="94.14999999999999" y2="611.5" stroke="#303048" stroke-width="1.0"/>
<line x1="94.15" y1="624" x2="101.35" y2="624" stroke="#303048" stroke-width="1.0"/>
<line x1="101.35000000000001" y1="629.4" x2="108.55" y2="629.4" stroke="#303048" stroke-width="1.0"/>
<line x1="108.45" y1="645" x2="115.64999999999999" y2="645" stroke="#303048" stroke-width="1.0"/>
<circle cx="90.55" cy="604.40" r="2.20" fill="#0a0ad0" stroke="#0000a8" stroke-width="0.6"/>
<circle cx="90.55" cy="611.50" r="2.20" fill="#0a0ad0" stroke="#0000a8" stroke-width="0.6"/>
<circle cx="90.55" cy="613.50" r="2.20" fill="#0a0ad0" stroke="#0000a8" stroke-width="0.6"/>
<circle cx="90.55" cy="618.80" r="2.20" fill="#0a0ad0" stroke="#0000a8" stroke-width="0.6"/>
<circle cx="97.75" cy="608.80" r="2.20" fill="#e01010" stroke="#b00000" stroke-width="0.6"/>
<circle cx="97.75" cy="619.80" r="2.20" fill="#e01010" stroke="#b00000" stroke-width="0.6"/>
<circle cx="97.75" cy="630.00" r="2.20" fill="#e01010" stroke="#b00000" stroke-width="0.6"/>
<circle cx="97.75" cy="635.20" r="2.20" fill="#e01010" stroke="#b00000" stroke-width="0.6"/>
<circle cx="104.95" cy="619.80" r="2.20" fill="#28ee28" stroke="#18c818" stroke-width="0.6"/>
<circle cx="104.95" cy="630.40" r="2.20" fill="#28ee28" stroke="#18c818" stroke-width="0.6"/>
<circle cx="104.95" cy="633.30" r="2.20" fill="#28ee28" stroke="#18c818" stroke-width="0.6"/>
<circle cx="112.05" cy="644.80" r="2.20" fill="#f08020" stroke="#d06c10" stroke-width="0.6"/>
<circle cx="112.05" cy="647.70" r="2.20" fill="#f08020" stroke="#d06c10" stroke-width="0.6"/>
<line x1="123.7" y1="602.5" x2="130.9" y2="602.5" stroke="#303048" stroke-width="1.0"/>
<line x1="138.1" y1="628" x2="145.29999999999998" y2="628" stroke="#303048" stroke-width="1.0"/>
<circle cx="127.30" cy="596.30" r="2.20" fill="#0a0ad0" stroke="#0000a8" stroke-width="0.6"/>
<circle cx="127.30" cy="602.50" r="2.20" fill="#0a0ad0" stroke="#0000a8" stroke-width="0.6"/>
<circle cx="127.30" cy="605.00" r="2.20" fill="#0a0ad0" stroke="#0000a8" stroke-width="0.6"/>
<circle cx="127.30" cy="632.30" r="2.20" fill="#0a0ad0" stroke="#0000a8" stroke-width="0.6"/>
<circle cx="134.50" cy="646.70" r="2.20" fill="#e01010" stroke="#b00000" stroke-width="0.6"/>
<circle cx="134.50" cy="649.20" r="2.20" fill="#e01010" stroke="#b00000" stroke-width="0.6"/>
<circle cx="141.70" cy="610.80" r="2.20" fill="#28ee28" stroke="#18c818" stroke-width="0.6"/>
<circle cx="141.70" cy="628.50" r="2.20" fill="#28ee28" stroke="#18c818" stroke-width="0.6"/>
<circle cx="141.70" cy="631.30" r="2.20" fill="#28ee28" stroke="#18c818" stroke-width="0.6"/>
<circle cx="148.80" cy="649.60" r="2.20" fill="#f08020" stroke="#d06c10" stroke-width="0.6"/>
<line x1="160.45000000000002" y1="607.3" x2="167.65" y2="607.3" stroke="#303048" stroke-width="1.0"/>
<line x1="174.85000000000002" y1="634" x2="182.05" y2="634" stroke="#303048" stroke-width="1.0"/>
<circle cx="164.05" cy="598.30" r="2.20" fill="#0a0ad0" stroke="#0000a8" stroke-width="0.6"/>
<circle cx="164.05" cy="605.40" r="2.20" fill="#0a0ad0" stroke="#0000a8" stroke-width="0.6"/>
<circle cx="164.05" cy="611.50" r="2.20" fill="#0a0ad0" stroke="#0000a8" stroke-width="0.6"/>
<circle cx="164.05" cy="633.30" r="2.20" fill="#0a0ad0" stroke="#0000a8" stroke-width="0.6"/>
<circle cx="171.25" cy="644.80" r="2.20" fill="#e01010" stroke="#b00000" stroke-width="0.6"/>
<circle cx="171.25" cy="648.70" r="2.20" fill="#e01010" stroke="#b00000" stroke-width="0.6"/>
<circle cx="178.45" cy="633.30" r="2.20" fill="#28ee28" stroke="#18c818" stroke-width="0.6"/>
<circle cx="178.45" cy="636.20" r="2.20" fill="#28ee28" stroke="#18c818" stroke-width="0.6"/>
<circle cx="178.45" cy="638.10" r="2.20" fill="#28ee28" stroke="#18c818" stroke-width="0.6"/>
<circle cx="185.55" cy="647.70" r="2.20" fill="#f08020" stroke="#d06c10" stroke-width="0.6"/>
<circle cx="185.55" cy="649.60" r="2.20" fill="#f08020" stroke="#d06c10" stroke-width="0.6"/>
<line x1="204.4" y1="635" x2="211.6" y2="635" stroke="#303048" stroke-width="1.0"/>
<line x1="218.70000000000002" y1="641" x2="225.9" y2="641" stroke="#303048" stroke-width="1.0"/>
<circle cx="200.80" cy="647.70" r="2.20" fill="#0a0ad0" stroke="#0000a8" stroke-width="0.6"/>
<circle cx="200.80" cy="649.60" r="2.20" fill="#0a0ad0" stroke="#0000a8" stroke-width="0.6"/>
<circle cx="208.00" cy="609.80" r="2.20" fill="#e01010" stroke="#b00000" stroke-width="0.6"/>
<circle cx="208.00" cy="634.20" r="2.20" fill="#e01010" stroke="#b00000" stroke-width="0.6"/>
<circle cx="208.00" cy="636.20" r="2.20" fill="#e01010" stroke="#b00000" stroke-width="0.6"/>
<circle cx="208.00" cy="639.00" r="2.20" fill="#e01010" stroke="#b00000" stroke-width="0.6"/>
<circle cx="208.00" cy="646.20" r="2.20" fill="#e01010" stroke="#b00000" stroke-width="0.6"/>
<circle cx="215.20" cy="646.70" r="2.20" fill="#28ee28" stroke="#18c818" stroke-width="0.6"/>
<circle cx="215.20" cy="648.70" r="2.20" fill="#28ee28" stroke="#18c818" stroke-width="0.6"/>
<circle cx="222.30" cy="635.60" r="2.20" fill="#f08020" stroke="#d06c10" stroke-width="0.6"/>
<circle cx="222.30" cy="641.50" r="2.20" fill="#f08020" stroke="#d06c10" stroke-width="0.6"/>
<circle cx="222.30" cy="643.80" r="2.20" fill="#f08020" stroke="#d06c10" stroke-width="0.6"/>
<line x1="241.15" y1="595.8" x2="248.35" y2="595.8" stroke="#303048" stroke-width="1.0"/>
<line x1="248.35000000000002" y1="643.8" x2="255.55" y2="643.8" stroke="#303048" stroke-width="1.0"/>
<line x1="255.45000000000002" y1="596.7" x2="262.65000000000003" y2="596.7" stroke="#303048" stroke-width="1.0"/>
<circle cx="237.55" cy="647.30" r="2.20" fill="#0a0ad0" stroke="#0000a8" stroke-width="0.6"/>
<circle cx="237.55" cy="648.70" r="2.20" fill="#0a0ad0" stroke="#0000a8" stroke-width="0.6"/>
<circle cx="244.75" cy="574.60" r="2.20" fill="#e01010" stroke="#b00000" stroke-width="0.6"/>
<circle cx="244.75" cy="594.80" r="2.20" fill="#e01010" stroke="#b00000" stroke-width="0.6"/>
<circle cx="244.75" cy="600.20" r="2.20" fill="#e01010" stroke="#b00000" stroke-width="0.6"/>
<circle cx="251.95" cy="643.80" r="2.20" fill="#28ee28" stroke="#18c818" stroke-width="0.6"/>
<circle cx="251.95" cy="646.70" r="2.20" fill="#28ee28" stroke="#18c818" stroke-width="0.6"/>
<circle cx="251.95" cy="648.70" r="2.20" fill="#28ee28" stroke="#18c818" stroke-width="0.6"/>
<circle cx="259.05" cy="593.80" r="2.20" fill="#f08020" stroke="#d06c10" stroke-width="0.6"/>
<circle cx="259.05" cy="596.70" r="2.20" fill="#f08020" stroke="#d06c10" stroke-width="0.6"/>
<circle cx="259.05" cy="607.70" r="2.20" fill="#f08020" stroke="#d06c10" stroke-width="0.6"/>
<line x1="285.09999999999997" y1="612.3" x2="292.3" y2="612.3" stroke="#303048" stroke-width="1.0"/>
<line x1="292.2" y1="636.7" x2="299.40000000000003" y2="636.7" stroke="#303048" stroke-width="1.0"/>
<line x1="270.7" y1="634.8" x2="277.90000000000003" y2="634.8" stroke="#303048" stroke-width="1.0"/>
<line x1="277.9" y1="632" x2="285.1" y2="632" stroke="#303048" stroke-width="1.0"/>
<circle cx="274.30" cy="634.80" r="2.20" fill="#0a0ad0" stroke="#0000a8" stroke-width="0.6"/>
<circle cx="274.30" cy="638.70" r="2.20" fill="#0a0ad0" stroke="#0000a8" stroke-width="0.6"/>
<circle cx="274.30" cy="641.20" r="2.20" fill="#0a0ad0" stroke="#0000a8" stroke-width="0.6"/>
<circle cx="281.50" cy="631.90" r="2.20" fill="#e01010" stroke="#b00000" stroke-width="0.6"/>
<circle cx="281.50" cy="634.80" r="2.20" fill="#e01010" stroke="#b00000" stroke-width="0.6"/>
<circle cx="281.50" cy="637.70" r="2.20" fill="#e01010" stroke="#b00000" stroke-width="0.6"/>
<circle cx="288.70" cy="599.60" r="2.20" fill="#28ee28" stroke="#18c818" stroke-width="0.6"/>
<circle cx="288.70" cy="613.10" r="2.20" fill="#28ee28" stroke="#18c818" stroke-width="0.6"/>
<circle cx="288.70" cy="639.20" r="2.20" fill="#28ee28" stroke="#18c818" stroke-width="0.6"/>
<circle cx="295.80" cy="633.80" r="2.20" fill="#f08020" stroke="#d06c10" stroke-width="0.6"/>
<circle cx="295.80" cy="637.30" r="2.20" fill="#f08020" stroke="#d06c10" stroke-width="0.6"/>
<circle cx="295.80" cy="641.50" r="2.20" fill="#f08020" stroke="#d06c10" stroke-width="0.6"/>
<line x1="314.65" y1="608.8" x2="321.85" y2="608.8" stroke="#303048" stroke-width="1.0"/>
<line x1="321.84999999999997" y1="609.5" x2="329.05" y2="609.5" stroke="#303048" stroke-width="1.0"/>
<line x1="328.95" y1="554.6" x2="336.15000000000003" y2="554.6" stroke="#303048" stroke-width="1.0"/>
<circle cx="311.05" cy="615.60" r="2.20" fill="#0a0ad0" stroke="#0000a8" stroke-width="0.6"/>
<circle cx="311.05" cy="639.60" r="2.20" fill="#0a0ad0" stroke="#0000a8" stroke-width="0.6"/>
<circle cx="311.05" cy="642.50" r="2.20" fill="#0a0ad0" stroke="#0000a8" stroke-width="0.6"/>
<circle cx="311.05" cy="645.40" r="2.20" fill="#0a0ad0" stroke="#0000a8" stroke-width="0.6"/>
<circle cx="318.25" cy="561.70" r="2.20" fill="#e01010" stroke="#b00000" stroke-width="0.6"/>
<circle cx="318.25" cy="603.70" r="2.20" fill="#e01010" stroke="#b00000" stroke-width="0.6"/>
<circle cx="318.25" cy="616.90" r="2.20" fill="#e01010" stroke="#b00000" stroke-width="0.6"/>
<circle cx="318.25" cy="636.70" r="2.20" fill="#e01010" stroke="#b00000" stroke-width="0.6"/>
<circle cx="325.45" cy="607.50" r="2.20" fill="#28ee28" stroke="#18c818" stroke-width="0.6"/>
<circle cx="325.45" cy="610.80" r="2.20" fill="#28ee28" stroke="#18c818" stroke-width="0.6"/>
<circle cx="325.45" cy="612.30" r="2.20" fill="#28ee28" stroke="#18c818" stroke-width="0.6"/>
<circle cx="325.45" cy="639.20" r="2.20" fill="#28ee28" stroke="#18c818" stroke-width="0.6"/>
<circle cx="332.55" cy="548.70" r="2.20" fill="#f08020" stroke="#d06c10" stroke-width="0.6"/>
<circle cx="332.55" cy="555.00" r="2.20" fill="#f08020" stroke="#d06c10" stroke-width="0.6"/>
<circle cx="332.55" cy="556.90" r="2.20" fill="#f08020" stroke="#d06c10" stroke-width="0.6"/>
<path d="M89.55,585.80 L89.55,583.00 M89.55,585.80 L92.21,584.93 M89.55,585.80 L91.20,588.07 M89.55,585.80 L87.90,588.07 M89.55,585.80 L86.89,584.93 " stroke="#111" stroke-width="1.6" stroke-linecap="round" fill="none"/>
<circle cx="89.55" cy="585.8" r="1.2" fill="#111"/>
<path d="M162.85,579.60 L162.85,576.80 M162.85,579.60 L165.51,578.73 M162.85,579.60 L164.50,581.87 M162.85,579.60 L161.20,581.87 M162.85,579.60 L160.19,578.73 " stroke="#111" stroke-width="1.6" stroke-linecap="round" fill="none"/>
<circle cx="162.85" cy="579.6" r="1.2" fill="#111"/>
<text x="112.9" y="592.6" font-family="'Liberation Sans', sans-serif" font-size="12" font-weight="bold" text-anchor="middle" stroke="#111" stroke-width="0.8">#</text>
<text x="332.7" y="540.9" font-family="'Liberation Sans', sans-serif" font-size="12" font-weight="bold" text-anchor="middle" stroke="#111" stroke-width="0.8">#</text>
<text x="0" y="0" font-family="'Liberation Sans', sans-serif" font-size="8.1" font-weight="bold" text-anchor="start" transform="translate(378.1 556.4) scale(1 1.12)" ># p&lt;0.05, &#233;LTNP CD8</text>
<text x="0" y="0" font-family="'Liberation Sans', sans-serif" font-size="8.1" font-weight="bold" text-anchor="start" transform="translate(378.1 567.8) scale(1 1.12)" >vs Naive CD8</text>
<circle cx="380.60" cy="584.80" r="1.25" fill="#222"/>
<text x="0" y="0" font-family="'Liberation Sans', sans-serif" font-size="8.1" font-weight="bold" text-anchor="start" transform="translate(385.2 586.1) scale(1 1.12)" >p&lt;0.05, &#233;LTNP CD4</text>
<text x="0" y="0" font-family="'Liberation Sans', sans-serif" font-size="8.1" font-weight="bold" text-anchor="start" transform="translate(378.1 599.0) scale(1 1.12)" >vs Naive CD4</text>
<rect x="377.2" y="632.1" width="67.8" height="67.2" fill="none" stroke="#9a9a9a" stroke-width="1"/>
<circle cx="384.20" cy="643.00" r="1.70" fill="#0a0ad0" stroke="#0000a8" stroke-width="0.6"/>
<text x="0" y="0" font-family="'Liberation Sans', sans-serif" font-size="8" font-weight="bold" text-anchor="start" transform="translate(391.2 646.0) scale(1 1.15)" >&#233;LTNP CD4+</text>
<circle cx="384.20" cy="654.00" r="1.70" fill="#28ee28" stroke="#18c818" stroke-width="0.6"/>
<text x="0" y="0" font-family="'Liberation Sans', sans-serif" font-size="8" font-weight="bold" text-anchor="start" transform="translate(391.2 657.4) scale(1 1.15)" >Naive CD4+</text>
<circle cx="384.20" cy="677.80" r="1.70" fill="#e01010" stroke="#b00000" stroke-width="0.6"/>
<text x="0" y="0" font-family="'Liberation Sans', sans-serif" font-size="8" font-weight="bold" text-anchor="start" transform="translate(391.2 680.9) scale(1 1.15)" >&#233;LTNP CD8+</text>
<circle cx="384.20" cy="688.60" r="1.70" fill="#f08020" stroke="#d06c10" stroke-width="0.6"/>
<text x="0" y="0" font-family="'Liberation Sans', sans-serif" font-size="8" font-weight="bold" text-anchor="start" transform="translate(391.2 692.3) scale(1 1.15)" >Naive CD8+</text>
<text x="33.9" y="669.5" font-family="'Liberation Sans', sans-serif" font-size="8.0" font-weight="bold" text-anchor="end" >CCR7</text>
<rect x="42" y="663.2" width="7.4" height="6.5" fill="#0000e6" stroke="none" stroke-width="1.0"/>
<text x="35.0" y="679.9" font-family="'Liberation Sans', sans-serif" font-size="8.0" font-weight="bold" text-anchor="end" >CD45RA</text>
<rect x="42" y="673.6" width="7.4" height="6.5" fill="#fc0000" stroke="none" stroke-width="1.0"/>
<text x="36.2" y="690.3" font-family="'Liberation Sans', sans-serif" font-size="8.0" font-weight="bold" text-anchor="end" >CD127</text>
<rect x="42" y="684.0" width="7.4" height="6.5" fill="#00ff00" stroke="none" stroke-width="1.0"/>
<circle cx="64.40" cy="666.40" r="0.9" fill="#333"/>
<circle cx="64.40" cy="675.90" r="0.9" fill="#333"/>
<circle cx="64.40" cy="684.90" r="0.9" fill="#333"/>
<circle cx="100.80" cy="666.40" r="0.9" fill="#333"/>
<circle cx="100.80" cy="675.90" r="0.9" fill="#333"/>
<circle cx="100.80" cy="684.90" r="0.6" fill="#aaa"/>
<circle cx="137.70" cy="666.40" r="0.9" fill="#333"/>
<circle cx="137.70" cy="675.90" r="0.6" fill="#aaa"/>
<circle cx="137.70" cy="684.90" r="0.9" fill="#333"/>
<circle cx="175.00" cy="666.40" r="0.9" fill="#333"/>
<circle cx="175.00" cy="675.90" r="0.6" fill="#aaa"/>
<circle cx="175.00" cy="684.90" r="0.6" fill="#aaa"/>
<circle cx="211.40" cy="666.40" r="0.6" fill="#aaa"/>
<circle cx="211.40" cy="675.90" r="0.9" fill="#333"/>
<circle cx="211.40" cy="684.90" r="0.9" fill="#333"/>
<circle cx="248.60" cy="666.40" r="0.6" fill="#aaa"/>
<circle cx="248.60" cy="675.90" r="0.9" fill="#333"/>
<circle cx="248.60" cy="684.90" r="0.6" fill="#aaa"/>
<circle cx="284.80" cy="666.40" r="0.6" fill="#aaa"/>
<circle cx="284.80" cy="675.90" r="0.6" fill="#aaa"/>
<circle cx="284.80" cy="684.90" r="0.9" fill="#333"/>
<circle cx="321.40" cy="666.40" r="0.6" fill="#aaa"/>
<circle cx="321.40" cy="675.90" r="0.6" fill="#aaa"/>
<circle cx="321.40" cy="684.90" r="0.6" fill="#aaa"/>
<text x="55.2" y="706.3" font-family="'Liberation Sans', sans-serif" font-size="8.0" font-weight="bold" text-anchor="end" >(Pies)</text>
<rect x="60.900000000000006" y="699.4" width="7" height="6.5" fill="#fc0000" stroke="none" stroke-width="1.0"/>
<rect x="97.3" y="699.4" width="7" height="6.5" fill="#00ff00" stroke="none" stroke-width="1.0"/>
<rect x="134.2" y="699.4" width="7" height="6.5" fill="#0000e6" stroke="none" stroke-width="1.0"/>
<rect x="171.5" y="699.4" width="7" height="6.5" fill="#ff8400" stroke="none" stroke-width="1.0"/>
<rect x="207.9" y="699.4" width="7" height="6.5" fill="#00f078" stroke="none" stroke-width="1.0"/>
<rect x="245.1" y="699.4" width="7" height="6.5" fill="#dd00dd" stroke="none" stroke-width="1.0"/>
<rect x="281.3" y="699.4" width="7" height="6.5" fill="#ffff00" stroke="none" stroke-width="1.0"/>
<rect x="317.9" y="699.4" width="7" height="6.5" fill="#00ffff" stroke="none" stroke-width="1.0"/>
<text x="2.8" y="729.8" font-family="'Liberation Sans', sans-serif" font-size="18" font-weight="bold" text-anchor="start"  class="big">C</text>
<line x1="185" y1="721.5" x2="185" y2="833.2" stroke="#111" stroke-width="1.4"/>
<line x1="184.3" y1="832.5" x2="344" y2="832.5" stroke="#111" stroke-width="1.4"/>
<text x="0" y="0" font-family="'Liberation Sans', sans-serif" font-size="6.7" font-weight="bold" text-anchor="end" transform="translate(176.2 722.5) scale(1 1.05)" >70</text>
<line x1="181.7" y1="722.1" x2="185" y2="722.1" stroke="#111" stroke-width="1.2"/>
<text x="0" y="0" font-family="'Liberation Sans', sans-serif" font-size="6.7" font-weight="bold" text-anchor="end" transform="translate(176.2 739.3) scale(1 1.05)" >60</text>
<line x1="181.7" y1="737.8" x2="185" y2="737.8" stroke="#111" stroke-width="1.2"/>
<text x="0" y="0" font-family="'Liberation Sans', sans-serif" font-size="6.7" font-weight="bold" text-anchor="end" transform="translate(176.2 754.3) scale(1 1.05)" >50</text>
<line x1="181.7" y1="753.8" x2="185" y2="753.8" stroke="#111" stroke-width="1.2"/>
<text x="0" y="0" font-family="'Liberation Sans', sans-serif" font-size="6.7" font-weight="bold" text-anchor="end" transform="translate(176.2 769.8) scale(1 1.05)" >40</text>
<line x1="181.7" y1="769.7" x2="185" y2="769.7" stroke="#111" stroke-width="1.2"/>
<text x="0" y="0" font-family="'Liberation Sans', sans-serif" font-size="6.7" font-weight="bold" text-anchor="end" transform="translate(176.2 786.7) scale(1 1.05)" >30</text>
<line x1="181.7" y1="785.3" x2="185" y2="785.3" stroke="#111" stroke-width="1.2"/>
<text x="0" y="0" font-family="'Liberation Sans', sans-serif" font-size="6.7" font-weight="bold" text-anchor="end" transform="translate(176.2 803.6) scale(1 1.05)" >20</text>
<line x1="181.7" y1="801" x2="185" y2="801" stroke="#111" stroke-width="1.2"/>
<text x="0" y="0" font-family="'Liberation Sans', sans-serif" font-size="6.7" font-weight="bold" text-anchor="end" transform="translate(176.2 819.0) scale(1 1.05)" >10</text>
<line x1="181.7" y1="817" x2="185" y2="817" stroke="#111" stroke-width="1.2"/>
<text x="0" y="0" font-family="'Liberation Sans', sans-serif" font-size="6.7" font-weight="bold" text-anchor="end" transform="translate(176.2 833.9) scale(1 1.05)" >0</text>
<line x1="181.7" y1="832.6" x2="185" y2="832.6" stroke="#111" stroke-width="1.2"/>
<line x1="224.7" y1="832.5" x2="224.7" y2="835.8" stroke="#111" stroke-width="1.2"/>
<line x1="304" y1="832.5" x2="304" y2="835.8" stroke="#111" stroke-width="1.2"/>
<rect x="198.2" y="793.2" width="52.80000000000001" height="12.799999999999955" fill="none" stroke="#111" stroke-width="1.5"/>
<line x1="198.2" y1="800.8" x2="251" y2="800.8" stroke="#111" stroke-width="1.5"/>
<line x1="224.7" y1="785.8" x2="224.7" y2="793.2" stroke="#111" stroke-width="1.5"/>
<line x1="211.7" y1="785.8" x2="237.7" y2="785.8" stroke="#111" stroke-width="1.5"/>
<line x1="224.7" y1="806" x2="224.7" y2="811.7" stroke="#111" stroke-width="1.5"/>
<line x1="211.7" y1="811.7" x2="237.7" y2="811.7" stroke="#111" stroke-width="1.5"/>
<rect x="277.8" y="742.8" width="52.5" height="32.80000000000007" fill="none" stroke="#111" stroke-width="1.5"/>
<line x1="277.8" y1="761.2" x2="330.3" y2="761.2" stroke="#111" stroke-width="1.5"/>
<line x1="304" y1="735.3" x2="304" y2="742.8" stroke="#111" stroke-width="1.5"/>
<line x1="290.5" y1="735.3" x2="317.2" y2="735.3" stroke="#111" stroke-width="1.5"/>
<line x1="304" y1="775.6" x2="304" y2="778.6" stroke="#111" stroke-width="1.5"/>
<line x1="290.5" y1="778.6" x2="317.2" y2="778.6" stroke="#111" stroke-width="1.5"/>
<text x="233.4" y="729.2" font-family="'Liberation Sans', sans-serif" font-size="9.5" font-weight="bold" text-anchor="start" >p = 0.0286</text>
<text x="212.3" y="850.3" font-family="'Liberation Sans', sans-serif" font-size="9.2" font-weight="bold" text-anchor="start" >&#233;LTNP</text>
<text x="293" y="850.3" font-family="'Liberation Sans', sans-serif" font-size="9.3" font-weight="bold" text-anchor="start" >Naive</text>
<text x="141.8" y="778.4" font-family="'Liberation Sans', sans-serif" font-size="8.9" font-weight="bold" text-anchor="middle" transform="rotate(-90 141.8 778.4)">Percentage of Treg</text>
<text x="153.6" y="778.4" font-family="'Liberation Sans', sans-serif" font-size="9.0" font-weight="bold" text-anchor="middle" transform="rotate(-90 153.7 778.4)">expressing HLA-DR</text>
<line x1="105.2" y1="862" x2="105.2" y2="946.3" stroke="#111" stroke-width="1.3"/>
<line x1="104.6" y1="945.7" x2="240.3" y2="945.7" stroke="#111" stroke-width="1.3"/>
<text x="98.9" y="864.5" font-family="'Liberation Serif', serif" font-size="6.6" font-weight="bold" text-anchor="end" stroke="#222" stroke-width="0.25">17500</text>
<line x1="102.5" y1="862.3" x2="105.2" y2="862.3" stroke="#111" stroke-width="1.1"/>
<text x="98.9" y="876.4000000000001" font-family="'Liberation Serif', serif" font-size="6.6" font-weight="bold" text-anchor="end" stroke="#222" stroke-width="0.25">15000</text>
<line x1="102.5" y1="874.2" x2="105.2" y2="874.2" stroke="#111" stroke-width="1.1"/>
<text x="98.9" y="888.4000000000001" font-family="'Liberation Serif', serif" font-size="6.6" font-weight="bold" text-anchor="end" stroke="#222" stroke-width="0.25">12500</text>
<line x1="102.5" y1="886.2" x2="105.2" y2="886.2" stroke="#111" stroke-width="1.1"/>
<text x="98.9" y="900.5" font-family="'Liberation Serif', serif" font-size="6.6" font-weight="bold" text-anchor="end" stroke="#222" stroke-width="0.25">10000</text>
<line x1="102.5" y1="898.3" x2="105.2" y2="898.3" stroke="#111" stroke-width="1.1"/>
<text x="98.9" y="912.4000000000001" font-family="'Liberation Serif', serif" font-size="6.6" font-weight="bold" text-anchor="end" stroke="#222" stroke-width="0.25">7500</text>
<line x1="102.5" y1="910.2" x2="105.2" y2="910.2" stroke="#111" stroke-width="1.1"/>
<text x="98.9" y="924.1" font-family="'Liberation Serif', serif" font-size="6.6" font-weight="bold" text-anchor="end" stroke="#222" stroke-width="0.25">5000</text>
<line x1="102.5" y1="921.9" x2="105.2" y2="921.9" stroke="#111" stroke-width="1.1"/>
<text x="98.9" y="936.0" font-family="'Liberation Serif', serif" font-size="6.6" font-weight="bold" text-anchor="end" stroke="#222" stroke-width="0.25">2500</text>
<line x1="102.5" y1="933.8" x2="105.2" y2="933.8" stroke="#111" stroke-width="1.1"/>
<text x="100.6" y="947.6" font-family="'Liberation Serif', serif" font-size="6.6" font-weight="bold" text-anchor="end" stroke="#222" stroke-width="0.25">0</text>
<line x1="102.5" y1="945.4" x2="105.2" y2="945.4" stroke="#111" stroke-width="1.1"/>
<line x1="139.5" y1="945.7" x2="139.5" y2="948.6" stroke="#111" stroke-width="1.1"/>
<line x1="206.5" y1="945.7" x2="206.5" y2="948.6" stroke="#111" stroke-width="1.1"/>
<rect x="116.7" y="893.3" width="44.7" height="34.40000000000009" fill="none" stroke="#111" stroke-width="1.3"/>
<line x1="116.7" y1="919" x2="161.4" y2="919" stroke="#111" stroke-width="1.3"/>
<line x1="139.5" y1="868.8" x2="139.5" y2="893.3" stroke="#111" stroke-width="1.3"/>
<line x1="127.4" y1="868.8" x2="151.3" y2="868.8" stroke="#111" stroke-width="1.3"/>
<line x1="139.5" y1="927.7" x2="139.5" y2="933.5" stroke="#111" stroke-width="1.3"/>
<line x1="127.4" y1="933.5" x2="151.3" y2="933.5" stroke="#111" stroke-width="1.3"/>
<rect x="184" y="926.8" width="45.5" height="14.300000000000068" fill="none" stroke="#111" stroke-width="1.3"/>
<line x1="184" y1="937.3" x2="229.5" y2="937.3" stroke="#111" stroke-width="1.3"/>
<text x="166.9" y="872.8" font-family="'Liberation Sans', sans-serif" font-size="9.4" font-weight="bold" text-anchor="start" >p=0.066</text>
<text x="123.1" y="960.6" font-family="'Liberation Sans', sans-serif" font-size="9.8" font-weight="bold" text-anchor="start" >&#233;LTNP</text>
<text x="188.5" y="960.4" font-family="'Liberation Sans', sans-serif" font-size="9.3" font-weight="bold" text-anchor="start" >Naive</text>
<text x="59.3" y="901.9" font-family="'Liberation Sans', sans-serif" font-size="9.1" font-weight="bold" text-anchor="middle" transform="rotate(-90 59.3 901.9)">TREC+ cells per</text>
<text x="71.8" y="902.1" font-family="'Liberation Sans', sans-serif" font-size="8.9" font-weight="bold" text-anchor="middle" transform="rotate(-90 71.8 902.1)">million CD4+ T cells</text>
<line x1="332.5" y1="862" x2="332.5" y2="946.3" stroke="#111" stroke-width="1.3"/>
<line x1="331.9" y1="945.9" x2="467" y2="945.9" stroke="#111" stroke-width="1.3"/>
<text x="326" y="864.5" font-family="'Liberation Serif', serif" font-size="6.6" font-weight="bold" text-anchor="end" stroke="#222" stroke-width="0.25">100000</text>
<line x1="329.6" y1="862.3" x2="332.5" y2="862.3" stroke="#111" stroke-width="1.1"/>
<text x="326" y="885.7" font-family="'Liberation Serif', serif" font-size="6.6" font-weight="bold" text-anchor="end" stroke="#222" stroke-width="0.25">10000</text>
<line x1="329.6" y1="883.5" x2="332.5" y2="883.5" stroke="#111" stroke-width="1.1"/>
<text x="326" y="906.3000000000001" font-family="'Liberation Serif', serif" font-size="6.6" font-weight="bold" text-anchor="end" stroke="#222" stroke-width="0.25">1000</text>
<line x1="329.6" y1="904.1" x2="332.5" y2="904.1" stroke="#111" stroke-width="1.1"/>
<text x="326" y="927.0" font-family="'Liberation Serif', serif" font-size="6.6" font-weight="bold" text-anchor="end" stroke="#222" stroke-width="0.25">100</text>
<line x1="329.6" y1="924.8" x2="332.5" y2="924.8" stroke="#111" stroke-width="1.1"/>
<text x="326" y="947.7" font-family="'Liberation Serif', serif" font-size="6.6" font-weight="bold" text-anchor="end" stroke="#222" stroke-width="0.25">10</text>
<line x1="329.6" y1="945.5" x2="332.5" y2="945.5" stroke="#111" stroke-width="1.1"/>
<line x1="366" y1="945.9" x2="366" y2="948.8" stroke="#111" stroke-width="1.1"/>
<line x1="433.3" y1="945.9" x2="433.3" y2="948.8" stroke="#111" stroke-width="1.1"/>
<rect x="343.2" y="912.7" width="45.400000000000034" height="15.799999999999955" fill="none" stroke="#111" stroke-width="1.3"/>
<line x1="343.2" y1="922.8" x2="388.6" y2="922.8" stroke="#111" stroke-width="1.3"/>
<line x1="366" y1="909.2" x2="366" y2="912.7" stroke="#111" stroke-width="1.3"/>
<line x1="354.5" y1="909.2" x2="377.6" y2="909.2" stroke="#111" stroke-width="1.3"/>
<rect x="410.8" y="880.4" width="45.19999999999999" height="19.300000000000068" fill="none" stroke="#111" stroke-width="1.3"/>
<line x1="410.8" y1="891.6" x2="456" y2="891.6" stroke="#111" stroke-width="1.3"/>
<line x1="433.3" y1="876.6" x2="433.3" y2="880.4" stroke="#111" stroke-width="1.3"/>
<line x1="422.3" y1="876.6" x2="444.8" y2="876.6" stroke="#111" stroke-width="1.3"/>
<line x1="433.3" y1="899.7" x2="433.3" y2="903.5" stroke="#111" stroke-width="1.3"/>
<line x1="422.3" y1="903.5" x2="444.8" y2="903.5" stroke="#111" stroke-width="1.3"/>
<text x="364" y="876.3" font-family="'Liberation Sans', sans-serif" font-size="9.5" font-weight="bold" text-anchor="start" >p=0.0043</text>
<text x="353" y="959.9" font-family="'Liberation Sans', sans-serif" font-size="9.6" font-weight="bold" text-anchor="start" >&#233;LTNP</text>
<text x="418" y="959.9" font-family="'Liberation Sans', sans-serif" font-size="9.4" font-weight="bold" text-anchor="start" >Naive</text>
<text x="285.6" y="905" font-family="'Liberation Sans', sans-serif" font-size="9.0" font-weight="bold" text-anchor="middle" transform="rotate(-90 285.6 905)">Copies of HIV DNA per</text>
<text x="297.6" y="904.5" font-family="'Liberation Sans', sans-serif" font-size="8.7" font-weight="bold" text-anchor="middle" transform="rotate(-90 297.6 904.5)">million CD4+ T cells</text>
</svg>
</body></html>
